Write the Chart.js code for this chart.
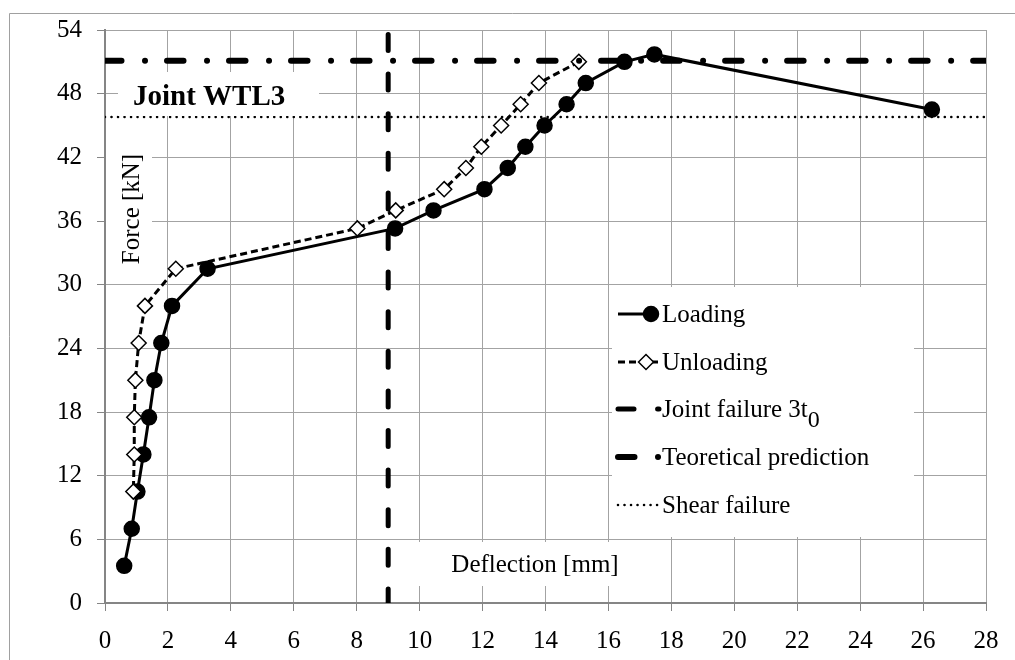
<!DOCTYPE html>
<html>
<head>
<meta charset="utf-8">
<script src="https://cdn.jsdelivr.net/npm/chart.js@4.4.1/dist/chart.umd.min.js"></script>
<style>
  html, body { margin: 0; padding: 0; background: #fff; }
  #wrap { position: relative; width: 1015px; height: 660px; }
</style>
</head>
<body>
<div id="wrap"><canvas id="chart"></canvas></div>
<script>
// Datos (deflexion en mm, fuerza en kN)
const loadingX = [0.61, 0.85, 1.03, 1.22, 1.40, 1.57, 1.79, 2.13, 3.26, 9.22, 10.44, 12.06, 12.80, 13.36, 13.97, 14.67, 15.28, 16.51, 17.46, 26.28];
const loadingY = [3.5, 7.0, 10.5, 14.0, 17.5, 21.0, 24.5, 28.0, 31.5, 35.3, 37.0, 39.0, 41.0, 43.0, 45.0, 47.0, 49.0, 51.0, 51.7, 46.5];

const unloadingX = [15.06, 13.79, 13.21, 12.59, 11.96, 11.47, 10.78, 9.24, 8.02, 2.25, 1.27, 1.07, 0.965, 0.93, 0.93, 0.90];
const unloadingY = [51.0, 49.0, 47.0, 45.0, 43.0, 41.0, 39.0, 37.0, 35.3, 31.5, 28.0, 24.5, 21.0, 17.5, 14.0, 10.5];

const jointFailureX = 9;      // 3t0
const predictionY = 51.1;     // prediccion teorica
const shearFailureY = 45.8;   // fallo a cortante

const xTicks = [0, 28, 2];    // min, max, paso
const yTicks = [0, 54, 6];

const legendLabels = ['Loading', 'Unloading', 'Joint failure 3t', 'Teoretical prediction', 'Shear failure'];

const serif = '"Liberation Serif", "Times New Roman", serif';
const gridColor = '#a3a3a3';
const axisColor = '#858585';

const toPoints = (xs, ys) => xs.map((x, i) => ({ x: x, y: ys[i] }));

const styles = [
    { borderWidth: 3, borderDash: [], pointStyle: 'circle', pointRadius: 7.5, pointBackgroundColor: '#000' },
    { borderWidth: 3, borderDash: [7, 4], pointStyle: 'rectRot', pointRadius: 7.5, pointBackgroundColor: '#fff' },
    { borderWidth: 5, borderDash: [16, 23.6], borderDashOffset: -4.5, pointRadius: 0 },
    { borderWidth: 6, borderDash: [16.5, 23.5, 0.01, 22], pointRadius: 0 },
    { borderWidth: 2.6, borderDash: [0.01, 6.5], pointRadius: 0 }
];

// Plugin: marco, cajas de texto, titulos y leyenda
const overlay = {
    id: 'overlay',
    beforeDraw(chart) {
        const ctx = chart.ctx;
        ctx.save();
        ctx.fillStyle = '#fff';
        ctx.fillRect(0, 0, chart.width, chart.height);
        ctx.strokeStyle = '#a0a0a0';
        ctx.lineWidth = 1;
        ctx.beginPath();
        ctx.moveTo(9.5, chart.height);
        ctx.lineTo(9.5, 13.5);
        ctx.lineTo(chart.width, 13.5);
        ctx.stroke();
        ctx.restore();
    },
    afterDatasetsDraw(chart) {
        const ctx = chart.ctx;
        ctx.save();
        ctx.fillStyle = '#fff';
        ctx.fillRect(118, 72, 201, 44);     // Joint WTL3
        ctx.fillRect(106, 140, 46, 136);    // Force [kN]
        ctx.fillRect(395, 542, 245, 44);    // Deflection [mm]
        ctx.fillRect(612, 287, 302, 250);   // leyenda

        ctx.fillStyle = '#000';
        ctx.textBaseline = 'alphabetic';
        ctx.textAlign = 'left';
        ctx.font = 'bold 29px ' + serif;
        ctx.fillText('Joint WTL3', 133, 105);

        ctx.font = '25px ' + serif;
        ctx.textAlign = 'center';
        ctx.fillText('Deflection [mm]', 535, 572);

        ctx.save();
        ctx.translate(138.5, 209);
        ctx.rotate(-Math.PI / 2);
        ctx.fillText('Force [kN]', 0, 0);
        ctx.restore();

        // Leyenda
        const baselines = [322, 370, 417, 465, 513];
        const sx0 = 618, sx1 = 661, textX = 662;
        ctx.textAlign = 'left';
        legendLabels.forEach((label, i) => {
            const st = styles[i];
            const yMid = baselines[i] - 8;
            ctx.save();
            ctx.strokeStyle = '#000';
            ctx.lineWidth = st.borderWidth;
            ctx.lineCap = i >= 2 ? 'round' : 'butt';
            ctx.setLineDash(st.borderDash);
            ctx.beginPath();
            ctx.moveTo(sx0, yMid);
            ctx.lineTo(i === 0 ? 648 : sx1 - 2, yMid);
            ctx.stroke();
            ctx.restore();
            if (st.pointRadius > 0) {
                const cx = i === 0 ? 651 : 646;
                ctx.save();
                ctx.fillStyle = st.pointBackgroundColor;
                ctx.strokeStyle = '#000';
                ctx.lineWidth = 1.5;
                Chart.helpers.drawPoint(ctx, { pointStyle: st.pointStyle, radius: st.pointRadius, borderWidth: 1.5, rotation: 0 }, cx, yMid);
                ctx.restore();
            }
            ctx.fillStyle = '#000';
            ctx.font = '25px ' + serif;
            ctx.fillText(label, textX, baselines[i]);
            if (i === 2) {
                const w = ctx.measureText(label).width;
                ctx.font = '24px ' + serif;
                ctx.fillText('0', textX + w, baselines[i] + 10);
            }
        });
        ctx.restore();
    }
};

const lineSet = (data, i, extra) => Object.assign({
    data: data,
    showLine: true,
    borderColor: '#000',
    pointBorderColor: '#000',
    pointBorderWidth: 1.5,
    borderCapStyle: 'round',
    fill: false,
    tension: 0
}, styles[i], extra);

new Chart(document.getElementById('chart'), {
    type: 'scatter',
    data: {
        datasets: [
            lineSet([{ x: jointFailureX, y: yTicks[1] }, { x: jointFailureX, y: yTicks[0] }], 2, { order: 0, clip: 0 }),
            lineSet([{ x: xTicks[0], y: predictionY }, { x: xTicks[1], y: predictionY }], 3, { order: 0, clip: 0 }),
            lineSet([{ x: xTicks[0], y: shearFailureY }, { x: xTicks[1], y: shearFailureY }], 4, { order: 0, clip: 0 }),
            lineSet(toPoints(unloadingX, unloadingY), 1, { order: 1, borderCapStyle: 'butt' }),
            lineSet(toPoints(loadingX, loadingY), 0, { order: 1, borderCapStyle: 'butt' })
        ]
    },
    options: {
        responsive: true,
        maintainAspectRatio: false,
        animation: false,
        events: [],
        layout: { padding: { top: 29, right: 29, bottom: 0, left: 0 } },
        plugins: { legend: { display: false }, tooltip: { enabled: false } },
        scales: {
            x: {
                type: 'linear',
                min: xTicks[0], max: xTicks[1],
                ticks: { stepSize: xTicks[2], padding: 15, color: '#000', maxRotation: 0, font: { family: serif, size: 25 } },
                grid: { color: gridColor, tickLength: 8, tickColor: axisColor },
                border: { color: axisColor, width: 2 },
                afterFit: s => { s.height = 57; }
            },
            y: {
                type: 'linear',
                min: yTicks[0], max: yTicks[1],
                ticks: { stepSize: yTicks[2], padding: 15, color: '#000', font: { family: serif, size: 25 } },
                grid: { color: gridColor, tickLength: 8, tickColor: axisColor },
                border: { color: axisColor, width: 2 },
                afterFit: s => { s.width = 105; }
            }
        }
    },
    plugins: [overlay]
});
</script>
</body>
</html>
